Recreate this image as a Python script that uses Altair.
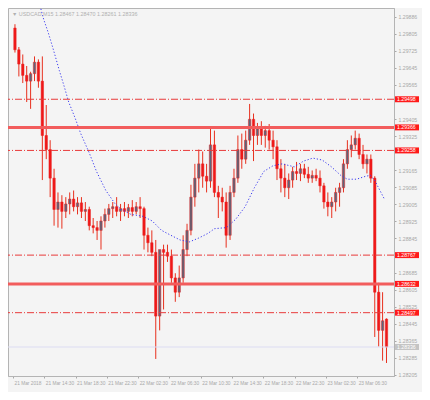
import altair as alt
import pandas as pd

# ---- OHLC, 30-minute bars starting 21 Mar 10:30 ----
opens = [1.29832, 1.29730, 1.29663, 1.29610, 1.29583, 1.29618, 1.29672, 1.29583, 1.29328, 1.29262,
         1.29128, 1.28981, 1.29016, 1.28972, 1.29007, 1.29030, 1.28994, 1.29012, 1.28972, 1.28981,
         1.28905, 1.28896, 1.28883, 1.28927, 1.28958, 1.28985, 1.28994, 1.28972, 1.28985, 1.28972,
         1.28990, 1.28972, 1.28994, 1.28985, 1.28860, 1.28825, 1.28780, 1.28481, 1.28793, 1.28780,
         1.28762, 1.28660, 1.28593, 1.28660, 1.28793, 1.28883, 1.29039, 1.29128, 1.29195, 1.29137,
         1.29114, 1.29284, 1.29061, 1.29039, 1.29016, 1.28860, 1.29061, 1.29128, 1.29262, 1.29217,
         1.29306, 1.29404, 1.29328, 1.29360, 1.29328, 1.29351, 1.29306, 1.29275, 1.29172, 1.29128,
         1.29083, 1.29119, 1.29159, 1.29150, 1.29172, 1.29146, 1.29128, 1.29141, 1.29128, 1.29092,
         1.29016, 1.28994, 1.29016, 1.29061, 1.29083, 1.29195, 1.29262, 1.29284, 1.29315, 1.29239,
         1.29195, 1.29217, 1.29128, 1.28593, 1.28414, 1.28467]
highs = [1.29850, 1.29743, 1.29708, 1.29654, 1.29627, 1.29699, 1.29685, 1.29699, 1.29471, 1.29306,
         1.29172, 1.29061, 1.29048, 1.29039, 1.29061, 1.29070, 1.29039, 1.29039, 1.29016, 1.28994,
         1.28941, 1.28927, 1.28949, 1.28985, 1.29007, 1.29016, 1.29039, 1.29007, 1.29016, 1.29007,
         1.29025, 1.29016, 1.29039, 1.28994, 1.28896, 1.28883, 1.28838, 1.28512, 1.28816, 1.28816,
         1.28793, 1.28682, 1.28718, 1.28860, 1.28914, 1.29097, 1.29195, 1.29262, 1.29253, 1.29195,
         1.29360, 1.29351, 1.29092, 1.29083, 1.29061, 1.29092, 1.29172, 1.29328, 1.29337, 1.29351,
         1.29476, 1.29431, 1.29387, 1.29395, 1.29373, 1.29382, 1.29351, 1.29306, 1.29217, 1.29195,
         1.29150, 1.29181, 1.29204, 1.29195, 1.29195, 1.29181, 1.29164, 1.29172, 1.29164, 1.29106,
         1.29061, 1.29039, 1.29083, 1.29106, 1.29217, 1.29306, 1.29328, 1.29351, 1.29337, 1.29284,
         1.29239, 1.29239, 1.29137, 1.28637, 1.28593, 1.28470]
lows = [1.29717, 1.29605, 1.29574, 1.29485, 1.29453, 1.29583, 1.29552, 1.29119, 1.29217, 1.29039,
        1.28905, 1.28896, 1.28891, 1.28941, 1.28958, 1.28972, 1.28958, 1.28941, 1.28927, 1.28883,
        1.28869, 1.28838, 1.28793, 1.28896, 1.28927, 1.28941, 1.28949, 1.28927, 1.28949, 1.28941,
        1.28949, 1.28958, 1.28941, 1.28793, 1.28780, 1.28762, 1.28280, 1.28414, 1.28512, 1.28735,
        1.28637, 1.28548, 1.28570, 1.28637, 1.28762, 1.28860, 1.28994, 1.29061, 1.29083, 1.29061,
        1.29083, 1.29039, 1.28941, 1.28972, 1.28802, 1.28838, 1.29039, 1.29106, 1.29172, 1.29195,
        1.29284, 1.29208, 1.29284, 1.29284, 1.29271, 1.29262, 1.29217, 1.29119, 1.29061, 1.29039,
        1.29030, 1.29083, 1.29119, 1.29114, 1.29128, 1.29106, 1.29106, 1.29114, 1.29061, 1.28985,
        1.28949, 1.28941, 1.28972, 1.28994, 1.29061, 1.29172, 1.29226, 1.29262, 1.29217, 1.29172,
        1.29150, 1.29106, 1.28383, 1.28338, 1.28272, 1.28261]
closes = [1.29730, 1.29663, 1.29610, 1.29583, 1.29618, 1.29672, 1.29583, 1.29328, 1.29262, 1.29128,
          1.28981, 1.29016, 1.28972, 1.29007, 1.29030, 1.28994, 1.29012, 1.28972, 1.28981, 1.28905,
          1.28896, 1.28883, 1.28927, 1.28958, 1.28985, 1.28994, 1.28972, 1.28985, 1.28972, 1.28990,
          1.28972, 1.28994, 1.28985, 1.28860, 1.28825, 1.28780, 1.28481, 1.28793, 1.28780, 1.28762,
          1.28660, 1.28593, 1.28660, 1.28793, 1.28883, 1.29039, 1.29128, 1.29195, 1.29137, 1.29114,
          1.29284, 1.29061, 1.29039, 1.29016, 1.28860, 1.29061, 1.29128, 1.29262, 1.29217, 1.29306,
          1.29404, 1.29328, 1.29360, 1.29328, 1.29351, 1.29306, 1.29275, 1.29172, 1.29128, 1.29083,
          1.29119, 1.29159, 1.29150, 1.29172, 1.29146, 1.29128, 1.29141, 1.29128, 1.29092, 1.29016,
          1.28994, 1.29016, 1.29061, 1.29083, 1.29195, 1.29262, 1.29284, 1.29315, 1.29239, 1.29195,
          1.29217, 1.29128, 1.28593, 1.28414, 1.28459, 1.28336]

# ---- moving average (hours since 21 Mar 10:30, price) ----
ma_hours = [3.56, 3.92, 4.51, 4.99, 5.34, 5.93, 6.53, 7.12, 7.95, 8.66, 9.73, 10.68, 11.87, 13.06,
            13.89, 15.07, 16.62, 17.80, 18.99, 20.18, 21.36, 22.55, 23.74, 24.93, 25.76, 27.30,
            28.49, 29.67, 30.86, 32.05, 33.23, 34.42, 35.96, 37.15, 38.34, 39.53, 40.71, 41.90,
            42.73, 43.92, 45.10, 45.70, 46.29, 47.48]
ma_values = [1.29922, 1.29873, 1.29810, 1.29752, 1.29708, 1.29632, 1.29560, 1.29485, 1.29409,
             1.29337, 1.29248, 1.29159, 1.29070, 1.29007, 1.28981, 1.28958, 1.28949, 1.28927,
             1.28883, 1.28860, 1.28838, 1.28829, 1.28847, 1.28869, 1.28891, 1.28896, 1.28936,
             1.28994, 1.29083, 1.29159, 1.29186, 1.29195, 1.29181, 1.29208, 1.29222, 1.29213,
             1.29181, 1.29141, 1.29123, 1.29123, 1.29137, 1.29141, 1.29114, 1.29030]

solid_levels = [1.29366, 1.28632]
dashdot_levels = [1.29498, 1.29258, 1.28767, 1.28497]
bid_price = 1.28336

# scale labels that stay visible (those under the level tags are hidden in the reference)
price_ticks = [1.29886, 1.29805, 1.29725, 1.29645, 1.29565, 1.29405, 1.29325,
               1.29165, 1.29085, 1.29005, 1.28925, 1.28845, 1.28685, 1.28605, 1.28525,
               1.28445, 1.28365, 1.28285, 1.28205]
time_labels = ["21 Mar 2018", "21 Mar 14:30", "21 Mar 18:30", "21 Mar 22:30", "22 Mar 02:30",
               "22 Mar 06:30", "22 Mar 10:30", "22 Mar 14:30", "22 Mar 18:30", "22 Mar 22:30",
               "23 Mar 02:30", "23 Mar 06:30"]
symbol = "USDCAD,M15"

W, H = 386, 368
FONT = "Liberation Sans"
GREY = "#a8a8a8"

bars = pd.DataFrame({"hour": [i * 0.5 + 0.25 for i in range(len(opens))],
                     "open": opens, "high": highs, "low": lows, "close": closes})
bars["bull"] = bars["close"] > bars["open"]

xscale = alt.Scale(domain=[0, 48.07], nice=False, zero=False)
yscale = alt.Scale(domain=[1.28200, 1.29926], nice=False, zero=False)

label_expr = "[" + ",".join("'%s'" % t for t in time_labels) + "][round(datum.value/4)]"
xaxis = alt.Axis(values=[4 * k for k in range(len(time_labels))], labelExpr=label_expr,
                 labelAlign="left", labelBaseline="top", labelFlush=False, labelOverlap=False,
                 labelFont=FONT, labelFontSize=4.8, labelColor=GREY, labelPadding=2, labelOffset=1,
                 tickSize=2, tickColor=GREY, domainColor="#b4b4b4", grid=False, title=None)
yaxis = alt.Axis(orient="right", values=price_ticks, format=".5f", labelFlush=False,
                 labelOverlap=False, labelFont=FONT, labelFontSize=5.2, labelColor=GREY,
                 labelPadding=2, tickSize=2, tickColor=GREY, domainColor="#b4b4b4",
                 grid=False, title=None)


def X(field):
    return alt.X(field, scale=xscale, axis=xaxis)


def Y(field):
    return alt.Y(field, scale=yscale, axis=yaxis)


wicks = alt.Chart(bars).mark_rule(color="#e8301e", strokeWidth=1).encode(
    x=X("hour:Q"), y=Y("low:Q"), y2="high:Q")
bodies = alt.Chart(bars).mark_bar(size=2.4, stroke="#e82020", strokeWidth=0.5).encode(
    x=X("hour:Q"), y=Y("open:Q"), y2="close:Q",
    color=alt.condition("datum.bull", alt.value("#5e6478"), alt.value("#f01818")),
)

ma = pd.DataFrame({"hour": ma_hours, "ma": ma_values})
ma_line = alt.Chart(ma).mark_line(color="#3c3cf0", strokeWidth=1, strokeDash=[1.2, 2],
                                  clip=True).encode(x=X("hour:Q"), y=Y("ma:Q"))

solid = alt.Chart(pd.DataFrame({"p": solid_levels})).mark_rule(
    color="#f25c5c", strokeWidth=3).encode(y=Y("p:Q"))
dash = alt.Chart(pd.DataFrame({"p": dashdot_levels})).mark_rule(
    color="#e83a3a", strokeWidth=1, strokeDash=[7, 2, 1, 2]).encode(y=Y("p:Q"))
bid = alt.Chart(pd.DataFrame({"p": [bid_price]})).mark_rule(
    color="#dcdcf2", strokeWidth=1).encode(y=Y("p:Q"))

tags = pd.DataFrame({
    "p": dashdot_levels + solid_levels + [bid_price],
    "bg": ["#ff1a1a"] * 6 + ["#c4c4c4"],
})
tags["label"] = tags["p"].map(lambda v: "%.5f" % v)
tag_rect = alt.Chart(tags).mark_rect().transform_calculate(
    top="datum.p + 0.00014", bot="datum.p - 0.00014").encode(
    x=alt.value(W + 1), x2=alt.value(W + 25),
    y=Y("top:Q"), y2="bot:Q",
    color=alt.Color("bg:N", scale=None),
)
tag_text = alt.Chart(tags).mark_text(align="left", baseline="middle", font=FONT,
                                     fontSize=5.2, color="white").encode(
    x=alt.value(W + 3), y=Y("p:Q"), text="label:N")

header = pd.DataFrame({"t": ["\u25bc  %s  %.5f %.5f %.5f %.5f" %
                             (symbol, opens[-1], highs[-1], lows[-1], closes[-1])]})
head = alt.Chart(header).mark_text(align="left", baseline="middle", font=FONT,
                                   fontSize=5.4, color="#b0b0b0").encode(
    x=alt.value(4), y=alt.value(6), text="t:N")

chart = alt.layer(wicks, bodies, ma_line, bid, solid, dash, tag_rect, tag_text, head).properties(
    width=W, height=H,
    padding={"left": 0, "top": 0, "right": 28, "bottom": 16},
    autosize=alt.AutoSizeParams(type="none"),
    background="#f4f4f4",
).configure_view(stroke="#b4b4b4", strokeWidth=1, fill="#f4f4f4")

chart.save("out.html", embed_options={"renderer": "svg", "actions": False})
